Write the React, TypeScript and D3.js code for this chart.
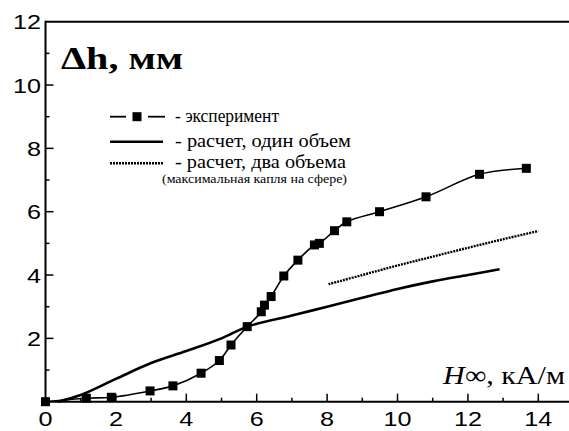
import React, { useEffect, useRef } from "react";
import * as d3 from "d3";

// experiment (squares)
const expX = [0, 1.16, 1.87, 2.97, 3.62, 4.42, 4.94, 5.27, 5.73, 6.13, 6.22, 6.41, 6.77, 7.17, 7.64, 7.78, 8.21, 8.56, 9.49, 10.81, 12.33, 13.66];
const expY = [0, 0.11, 0.14, 0.34, 0.5, 0.9, 1.3, 1.79, 2.37, 2.84, 3.05, 3.32, 3.97, 4.47, 4.95, 5.0, 5.4, 5.68, 6.0, 6.47, 7.18, 7.37];

// calculation, one volume (solid)
const oneX = [0.35, 1.0, 2.0, 3.0, 4.0, 5.0, 5.73, 7.0, 8.0, 9.0, 10.0, 11.0, 12.0, 12.9];
const oneY = [0, 0.21, 0.72, 1.22, 1.6, 2.0, 2.37, 2.72, 3.0, 3.28, 3.56, 3.8, 4.0, 4.18];

// calculation, two volumes (dotted)
const twoX = [8.04, 9, 10, 11, 12, 13, 14];
const twoY = [3.71, 4.0, 4.3, 4.58, 4.86, 5.13, 5.39];

const xTicks = [0, 2, 4, 6, 8, 10, 12, 14];
const yTicks = [2, 4, 6, 8, 10, 12];

const legendLabels = ["- эксперимент", "- расчет, один объем", "- расчет, два объема"];
const legendNote = "(максимальная капля на сфере)";

const W = 569;
const H = 431;
const SERIF = "'Liberation Serif', 'Times New Roman', serif";
const SANS = "'Liberation Sans', Arial, sans-serif";

const Chart = () => {
  const svgRef = useRef<SVGSVGElement>(null);

  useEffect(() => {
    const svg = d3.select(svgRef.current);
    svg.selectAll("*").remove();

    const x = d3.scaleLinear().domain([0, 15]).range([45.5, 45.5 + 15 * 35.2]);
    const y = d3.scaleLinear().domain([0, 12]).range([401.7, 21.7]);

    const x0 = x(0);
    const y0 = y(0);
    const yTop = y(12);

    //frame: left, top, bottom
    const frame = svg.append("g").attr("stroke", "#000").attr("stroke-width", 2).attr("fill", "none");
    frame.append("line").attr("x1", x0).attr("x2", x0).attr("y1", yTop - 1).attr("y2", y0 + 1);
    frame.append("line").attr("x1", x0).attr("x2", W).attr("y1", yTop).attr("y2", yTop);
    frame.append("line").attr("x1", x0).attr("x2", W).attr("y1", y0).attr("y2", y0);

    //ticks (inward)
    const ticks = svg.append("g").attr("stroke", "#000").attr("stroke-width", 1.5);
    d3.range(1, 15).forEach((v) => {
      const len = v % 2 === 0 ? 8 : 4;
      ticks.append("line").attr("x1", x(v)).attr("x2", x(v)).attr("y1", y0).attr("y2", y0 - len);
    });
    d3.range(1, 12).forEach((v) => {
      const len = v % 2 === 0 ? 8 : 4;
      ticks.append("line").attr("x1", x0).attr("x2", x0 + len).attr("y1", y(v)).attr("y2", y(v));
    });

    //tick labels
    const lab = svg.append("g").attr("font-family", SANS).attr("font-size", 21).attr("fill", "#000");
    xTicks.forEach((v) => {
      lab.append("text")
        .attr("transform", `translate(${x(v)},426) scale(1.2,1)`)
        .attr("text-anchor", "middle")
        .text(v);
    });
    yTicks.forEach((v) => {
      lab.append("text")
        .attr("transform", `translate(41,${y(v) + 7.5}) scale(1.2,1)`)
        .attr("text-anchor", "end")
        .text(v);
    });

    //curves
    const line = d3.line<[number, number]>()
      .x((d) => x(d[0]))
      .y((d) => y(d[1]))
      .curve(d3.curveCatmullRom.alpha(0.5));

    const oneData = oneX.map((v, i) => [v, oneY[i]] as [number, number]);
    const twoData = twoX.map((v, i) => [v, twoY[i]] as [number, number]);
    const expData = expX.map((v, i) => [v, expY[i]] as [number, number]);

    svg.append("path").datum(oneData).attr("fill", "none").attr("stroke", "#000").attr("stroke-width", 2.6).attr("d", line);
    svg.append("path").datum(twoData).attr("fill", "none").attr("stroke", "#000").attr("stroke-width", 2.4)
      .attr("stroke-dasharray", "2 1").attr("d", line);
    svg.append("path").datum(expData).attr("fill", "none").attr("stroke", "#000").attr("stroke-width", 1.6).attr("d", line);

    const sq = 9;
    svg.append("g").selectAll("rect").data(expData).enter().append("rect")
      .attr("x", (d) => x(d[0]) - sq / 2)
      .attr("y", (d) => y(d[1]) - sq / 2)
      .attr("width", sq)
      .attr("height", sq)
      .attr("fill", "#000");

    //title
    svg.append("text")
      .attr("x", 61).attr("y", 69)
      .attr("font-family", SERIF)
      .attr("font-weight", "bold")
      .attr("font-size", 32)
      .attr("textLength", 122)
      .attr("lengthAdjust", "spacingAndGlyphs")
      .text("Δh, мм");

    //axis label
    const axl = svg.append("text")
      .attr("x", 443).attr("y", 384)
      .attr("font-family", SERIF)
      .attr("font-size", 26)
      .attr("textLength", 122)
      .attr("lengthAdjust", "spacingAndGlyphs");
    axl.append("tspan").attr("font-style", "italic").text("H");
    axl.append("tspan").attr("font-style", "italic").attr("font-weight", "bold").text("∞");
    axl.append("tspan").text(", кА/м");

    //legend
    const lg = svg.append("g").attr("stroke", "#000").attr("fill", "none");
    lg.append("line").attr("x1", 110).attr("x2", 126).attr("y1", 116.7).attr("y2", 116.7).attr("stroke-width", 1.8);
    lg.append("line").attr("x1", 148).attr("x2", 165).attr("y1", 116.7).attr("y2", 116.7).attr("stroke-width", 1.8);
    lg.append("rect").attr("x", 137 - sq / 2).attr("y", 116.7 - sq / 2).attr("width", sq).attr("height", sq)
      .attr("fill", "#000").attr("stroke", "none");
    lg.append("line").attr("x1", 110).attr("x2", 163).attr("y1", 141.7).attr("y2", 141.7).attr("stroke-width", 2.6);
    lg.append("line").attr("x1", 110).attr("x2", 163).attr("y1", 163.3).attr("y2", 163.3).attr("stroke-width", 2.4)
      .attr("stroke-dasharray", "2 1");

    const lt = svg.append("g").attr("font-family", SERIF).attr("font-size", 19).attr("fill", "#000");
    const legendRows = [
      { y: 122, w: 104 },
      { y: 147, w: 176 },
      { y: 167.5, w: 171 },
    ];
    legendLabels.forEach((t, i) => {
      lt.append("text")
        .attr("x", 175).attr("y", legendRows[i].y)
        .attr("textLength", legendRows[i].w)
        .attr("lengthAdjust", "spacingAndGlyphs")
        .text(t);
    });
    lt.append("text")
      .attr("x", 162).attr("y", 182.5)
      .attr("font-size", 13)
      .attr("textLength", 185)
      .attr("lengthAdjust", "spacingAndGlyphs")
      .text(legendNote);
  }, []);

  return (
    <svg ref={svgRef} width={W} height={H} style={{ position: "absolute", left: 0, top: 0, background: "#fff" }} />
  );
};

export default function App() {
  return <Chart />;
}
